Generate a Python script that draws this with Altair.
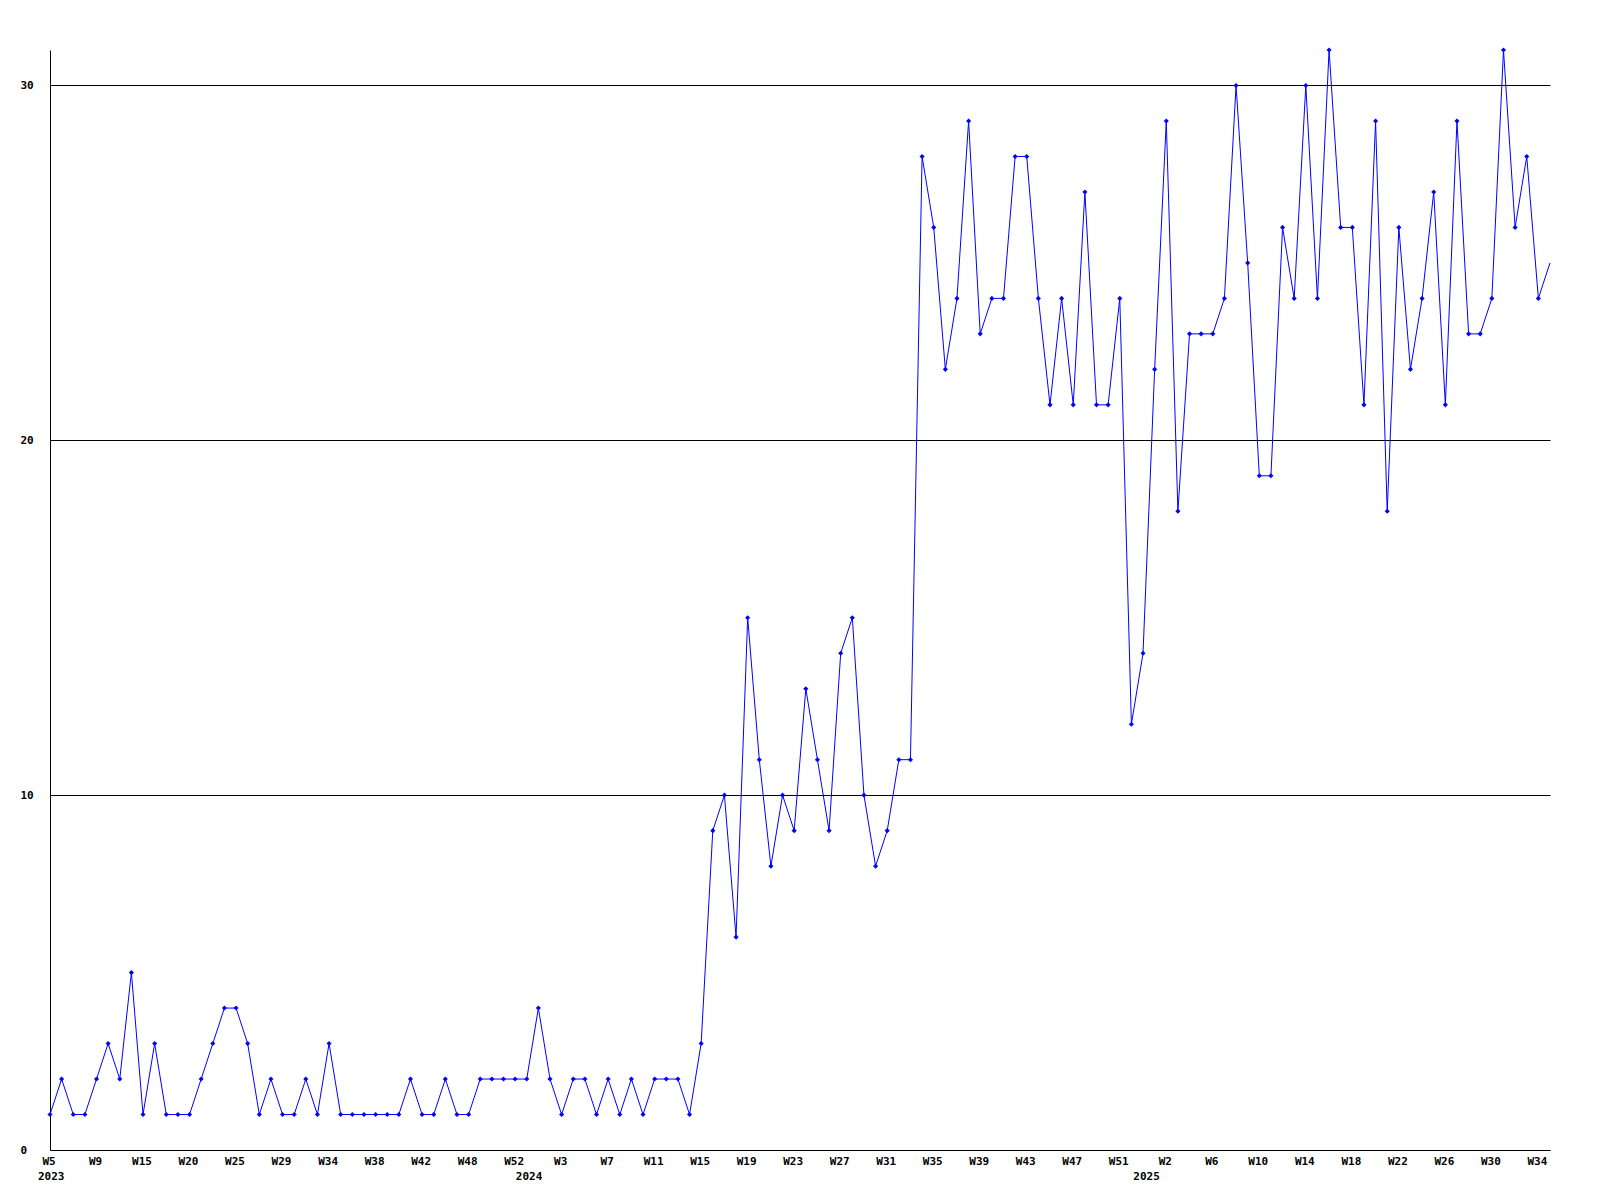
import altair as alt
import pandas as pd

# weekly values (one per data point, oldest first)
values = [1, 2, 1, 1, 2, 3, 2, 5, 1, 3, 1, 1, 1, 2, 3, 4, 4, 3, 1, 2,
          1, 1, 2, 1, 3, 1, 1, 1, 1, 1, 1, 2, 1, 1, 2, 1, 1, 2, 2, 2,
          2, 2, 4, 2, 1, 2, 2, 1, 2, 1, 2, 1, 2, 2, 2, 1, 3, 9, 10, 6,
          15, 11, 8, 10, 9, 13, 11, 9, 14, 15, 10, 8, 9, 11, 11, 28, 26, 22, 24, 29,
          23, 24, 24, 28, 28, 24, 21, 24, 21, 27, 21, 21, 24, 12, 14, 22, 29, 18, 23, 23,
          23, 24, 30, 25, 19, 19, 26, 24, 30, 24, 31, 26, 26, 21, 29, 18, 26, 22, 24, 27,
          21, 29, 23, 23, 24, 31, 26, 28, 24, 25]

week_labels = ["W5", "W9", "W15", "W20", "W25", "W29", "W34", "W38", "W42", "W48",
               "W52", "W3", "W7", "W11", "W15", "W19", "W23", "W27", "W31", "W35",
               "W39", "W43", "W47", "W51", "W2", "W6", "W10", "W14", "W18", "W22",
               "W26", "W30", "W34"]
week_label_pos = [i * 4 for i in range(len(week_labels))]

year_labels = ["2023", "2024", "2025"]
year_label_pos = [0.1, 41.2, 94.3]

df = pd.DataFrame({"idx": list(range(len(values))), "value": values})
df_weeks = pd.DataFrame({"pos": week_label_pos, "label": week_labels})
df_years = pd.DataFrame({"pos": year_label_pos, "label": year_labels})

W, H = 1500, 1100
FONT = "DejaVu Sans Mono"

xscale = alt.Scale(domain=[0, len(values) - 1], nice=False, zero=False)
yscale = alt.Scale(domain=[0, 31], nice=False, zero=True)

xaxis = alt.Axis(labels=False, ticks=False, grid=False, title=None,
                 domainColor="black", domainWidth=1)
yaxis = alt.Axis(values=[0, 10, 20, 30], ticks=False, tickSize=0, grid=True,
                 gridColor="black", gridWidth=1, gridOpacity=1, title=None,
                 domainColor="black", domainWidth=1, labelAlign="left",
                 labelPadding=30, labelFont=FONT, labelFontWeight="bold",
                 labelFontSize=11, labelColor="black", labelBaseline="middle")

line = alt.Chart(df).mark_line(color="#0000FF", strokeWidth=1).encode(
    x=alt.X("idx:Q", scale=xscale, axis=xaxis),
    y=alt.Y("value:Q", scale=yscale, axis=yaxis),
)

points = alt.Chart(df).transform_filter(
    alt.datum.idx < len(values) - 1
).mark_point(shape="diamond", filled=True, size=26, color="#0000FF", opacity=1).encode(
    x=alt.X("idx:Q", scale=xscale),
    y=alt.Y("value:Q", scale=yscale),
)

wk = alt.Chart(df_weeks).mark_text(
    font=FONT, fontWeight="bold", fontSize=11, color="black",
    align="center", baseline="middle", dx=-1
).encode(
    x=alt.X("pos:Q", scale=xscale),
    y=alt.value(H + 12),
    text="label:N",
)

yr = alt.Chart(df_years).mark_text(
    font=FONT, fontWeight="bold", fontSize=11, color="black",
    align="center", baseline="middle"
).encode(
    x=alt.X("pos:Q", scale=xscale),
    y=alt.value(H + 27),
    text="label:N",
)

chart = alt.layer(line, points, wk, yr).properties(
    width=W, height=H,
    autosize=alt.AutoSizeParams(type="none"),
    padding={"left": 42, "top": 42, "right": 42, "bottom": 42},
    background="white",
).configure_view(stroke=None)

chart.save("out.html", embed_options={"renderer": "svg", "actions": False})
